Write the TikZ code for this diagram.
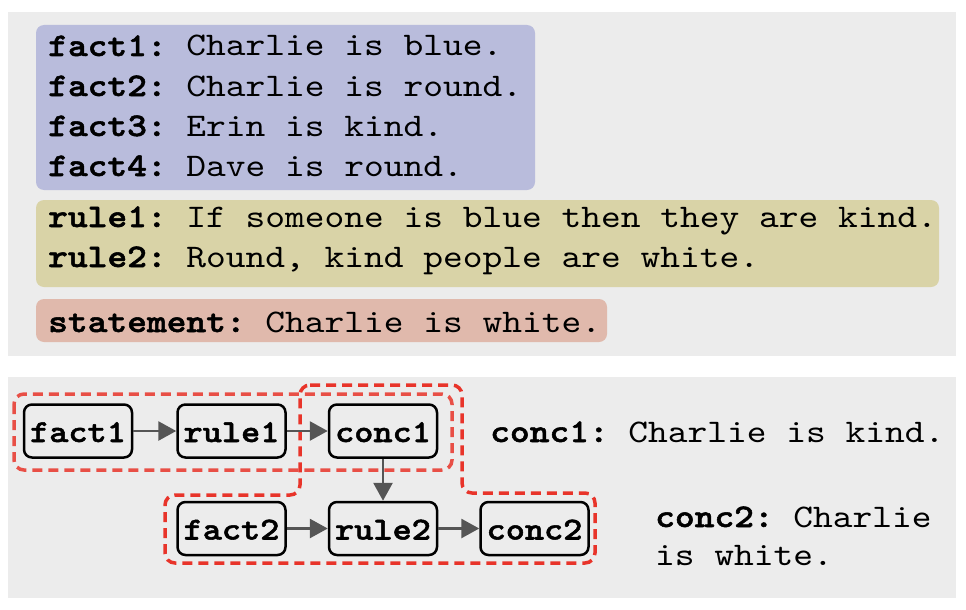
\documentclass[tikz,border=0pt]{standalone}
\usepackage{fontspec}
\setmonofont{lmmono10-regular.otf}[BoldFont=lmmonolt10-bold.otf,BoldFeatures={FakeBold=1.6},FakeStretch=1.14]
\usetikzlibrary{arrows.meta}
\definecolor{panel}{RGB}{236,236,236}
\definecolor{factc}{RGB}{185,188,220}
\definecolor{rulec}{RGB}{217,211,167}
\definecolor{statc}{RGB}{224,185,172}
\definecolor{arrc}{RGB}{85,85,85}
\definecolor{grpc}{RGB}{232,52,42}
\begin{document}
\begin{tikzpicture}[x=1pt,y=-1pt,
  txt/.style={anchor=base west,inner sep=0pt,font=\fontsize{33}{40}\ttfamily},
  stepbox/.style={draw=black,line width=2.5pt,rounded corners=8pt,minimum width=108pt,minimum height=53pt,inner sep=0pt,text height=22pt,text depth=0pt,font=\fontsize{32}{36}\ttfamily\bfseries},
  conn/.style={draw=arrc,line width=2.8pt,-{Triangle[length=18pt,width=19pt]}},
  grp/.style={draw=grpc,line width=3.5pt,dash pattern=on 10pt off 6pt,rounded corners=10pt}]
\useasboundingbox (0,0) rectangle (966,610);
% panels
\fill[panel] (8,12) rectangle (956,356);
\fill[panel] (8,377) rectangle (956,598);
% coloured boxes
\fill[factc,rounded corners=8pt] (36,25) rectangle (535,190);
\fill[rulec,rounded corners=8pt] (36,200) rectangle (939,287);
\fill[statc,rounded corners=8pt] (36,299) rectangle (607,342);
% texts
\node[txt] (t1) at (48,56) {\textbf{fact1:} Charlie is blue.};
\node[txt] (t2) at (48,96) {\textbf{fact2:} Charlie is round.};
\node[txt] (t3) at (48,136) {\textbf{fact3:} Erin is kind.};
\node[txt] (t4) at (48,176) {\textbf{fact4:} Dave is round.};
\node[txt] (r1) at (48,227) {\textbf{rule1:} If someone is blue then they are kind.};
\node[txt] (r2) at (48,267) {\textbf{rule2:} Round, kind people are white.};
\node[txt] (s1) at (48,332) {\textbf{statement:} Charlie is white.};
% groups
\draw[grp,draw opacity=0.85] (14,394) rectangle (452,470);
\draw[grp] (300,385) -- (462,385) -- (462,493) -- (595,493) -- (595,563) -- (165,563) -- (165,495) -- (300,495) -- cycle;
% proof nodes
\node[stepbox] (fact1) at (78,431) {fact1};
\node[stepbox] (rule1) at (231.5,431) {rule1};
\node[stepbox] (conc1) at (383,431) {conc1};
\node[stepbox] (fact2) at (231.5,528.5) {fact2};
\node[stepbox] (rule2) at (383,528.5) {rule2};
\node[stepbox] (conc2) at (534.5,528.5) {conc2};
\draw[conn] (fact1) -- (rule1);
\draw[conn] (rule1) -- (conc1);
\draw[conn] (conc1) -- (rule2);
\draw[conn] (fact2) -- (rule2);
\draw[conn] (rule2) -- (conc2);
% conclusions
\node[txt] (c1) at (490,442) {\textbf{conc1:} Charlie is kind.};
\node[txt] (c2a) at (655,527) {\textbf{conc2:} Charlie};
\node[txt] (c2b) at (655,565) {is white.};
\end{tikzpicture}
\end{document}
